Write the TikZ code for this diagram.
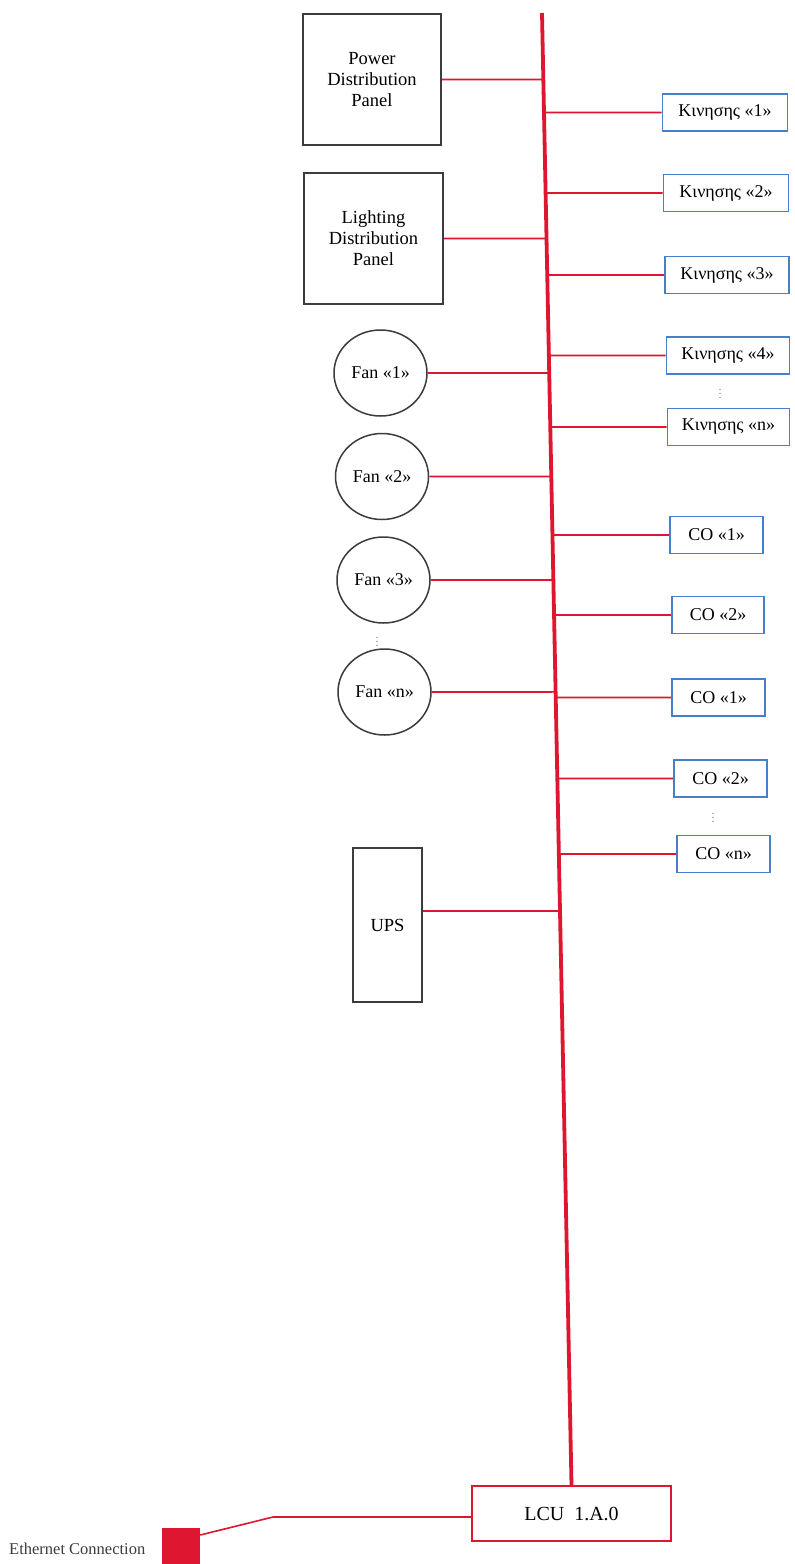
\documentclass[tikz,border=0pt]{standalone}
\usepackage{fontspec}
\setmainfont{Liberation Serif}
\usetikzlibrary{shapes.geometric}
\definecolor{busred}{RGB}{222,22,48}
\definecolor{boxblue}{RGB}{70,128,200}
\definecolor{boxgray}{RGB}{60,60,60}
\begin{document}
\begin{tikzpicture}[x=1pt,y=-1pt,
  panel/.style={rectangle,draw=boxgray,line width=1.6pt,align=center,font=\fontsize{18.5}{21}\selectfont},
  sensor/.style={rectangle,draw=boxblue,line width=1.6pt,minimum height=37pt,font=\fontsize{18}{21}\selectfont,inner sep=0pt},
  fan/.style={ellipse,draw=boxgray,line width=1.5pt,minimum width=93pt,minimum height=86pt,inner sep=0pt,font=\fontsize{18}{21}\selectfont},
  bus/.style={draw=busred,line width=3.8pt},
  branch/.style={draw=busred,line width=1.6pt},
  vdots/.style={font=\fontsize{12}{12}\selectfont,text=gray,inner sep=0pt}]
  \useasboundingbox[fill=white] (0,0) rectangle (795,1564);

  % left side
  \node[panel,minimum width=138pt,minimum height=131pt] at (372,79.5) (pdp) {Power\\Distribution\\Panel};
  \node[panel,minimum width=139pt,minimum height=131pt] at (373.5,238.5) (ldp) {Lighting\\Distribution\\Panel};
  \node[fan] at (380.5,373) (f1) {Fan «1»};
  \node[fan] at (382,476.5) (f2) {Fan «2»};
  \node[fan] at (383.5,580) (f3) {Fan «3»};
  \node[vdots] at (377,639) (fdots) {$\vdots$};
  \node[fan] at (384.5,692) (fn) {Fan «n»};
  \node[panel,minimum width=69pt,minimum height=154pt] at (387.5,925) (ups) {UPS};

  % right side
  \node[sensor,minimum width=125pt] at (725,112.5) (k1) {Κινησης «1»};
  \node[sensor,minimum width=125pt] at (726,193) (k2) {Κινησης «2»};
  \node[sensor,minimum width=124pt] at (727,275) (k3) {Κινησης «3»};
  \node[sensor,minimum width=123pt] at (728,355.5) (k4) {Κινησης «4»};
  \node[vdots] at (720,391) (kdots) {$\vdots$};
  \node[sensor,minimum width=122pt] at (728.5,427) (kn) {Κινησης «n»};
  \node[sensor,minimum width=93pt] at (716.5,535) (co1) {CO «1»};
  \node[sensor,minimum width=92pt] at (718,615) (co2) {CO «2»};
  \node[sensor,minimum width=93pt] at (718.5,697.5) (co3) {CO «1»};
  \node[sensor,minimum width=93pt] at (720.5,778.5) (co4) {CO «2»};
  \node[vdots] at (713,815) (codots) {$\vdots$};
  \node[sensor,minimum width=93pt] at (723.5,854) (con) {CO «n»};

  % bottom
  \node[rectangle,draw=busred,line width=1.6pt,minimum width=199pt,minimum height=55pt,font=\fontsize{20}{22}\selectfont] at (571.5,1513.5) (lcu) {LCU\ \ 1.A.0};
  \node[rectangle,fill=busred,minimum width=38pt,minimum height=50pt,inner sep=0pt] at (181,1553) (eth) {};
  \node[anchor=west,font=\fontsize{16.5}{18}\selectfont,text=boxgray,inner sep=0pt] at (9,1549) (ethlabel) {Ethernet Connection};

  \coordinate (bustop) at (542,13);
  \coordinate (bend) at (273,1517);

  % bus and branches
  \draw[bus] (bustop) -- (lcu.north);
  \foreach \n in {pdp,ldp,f1,f2,f3,fn,k1,k2,k3,k4,kn,co1,co2,co3,co4,con}
    \draw[branch] (\n) -- (intersection of bustop--lcu.north and \n.west--\n.east);
  \draw[branch] ([yshift=14pt]ups.east) -- (intersection of bustop--lcu.north and {[yshift=14pt]ups.west}--{[yshift=14pt]ups.east});
  \draw[branch] ([yshift=18pt]eth.east) -- (bend) -- (bend -| lcu.west);
\end{tikzpicture}
\end{document}
